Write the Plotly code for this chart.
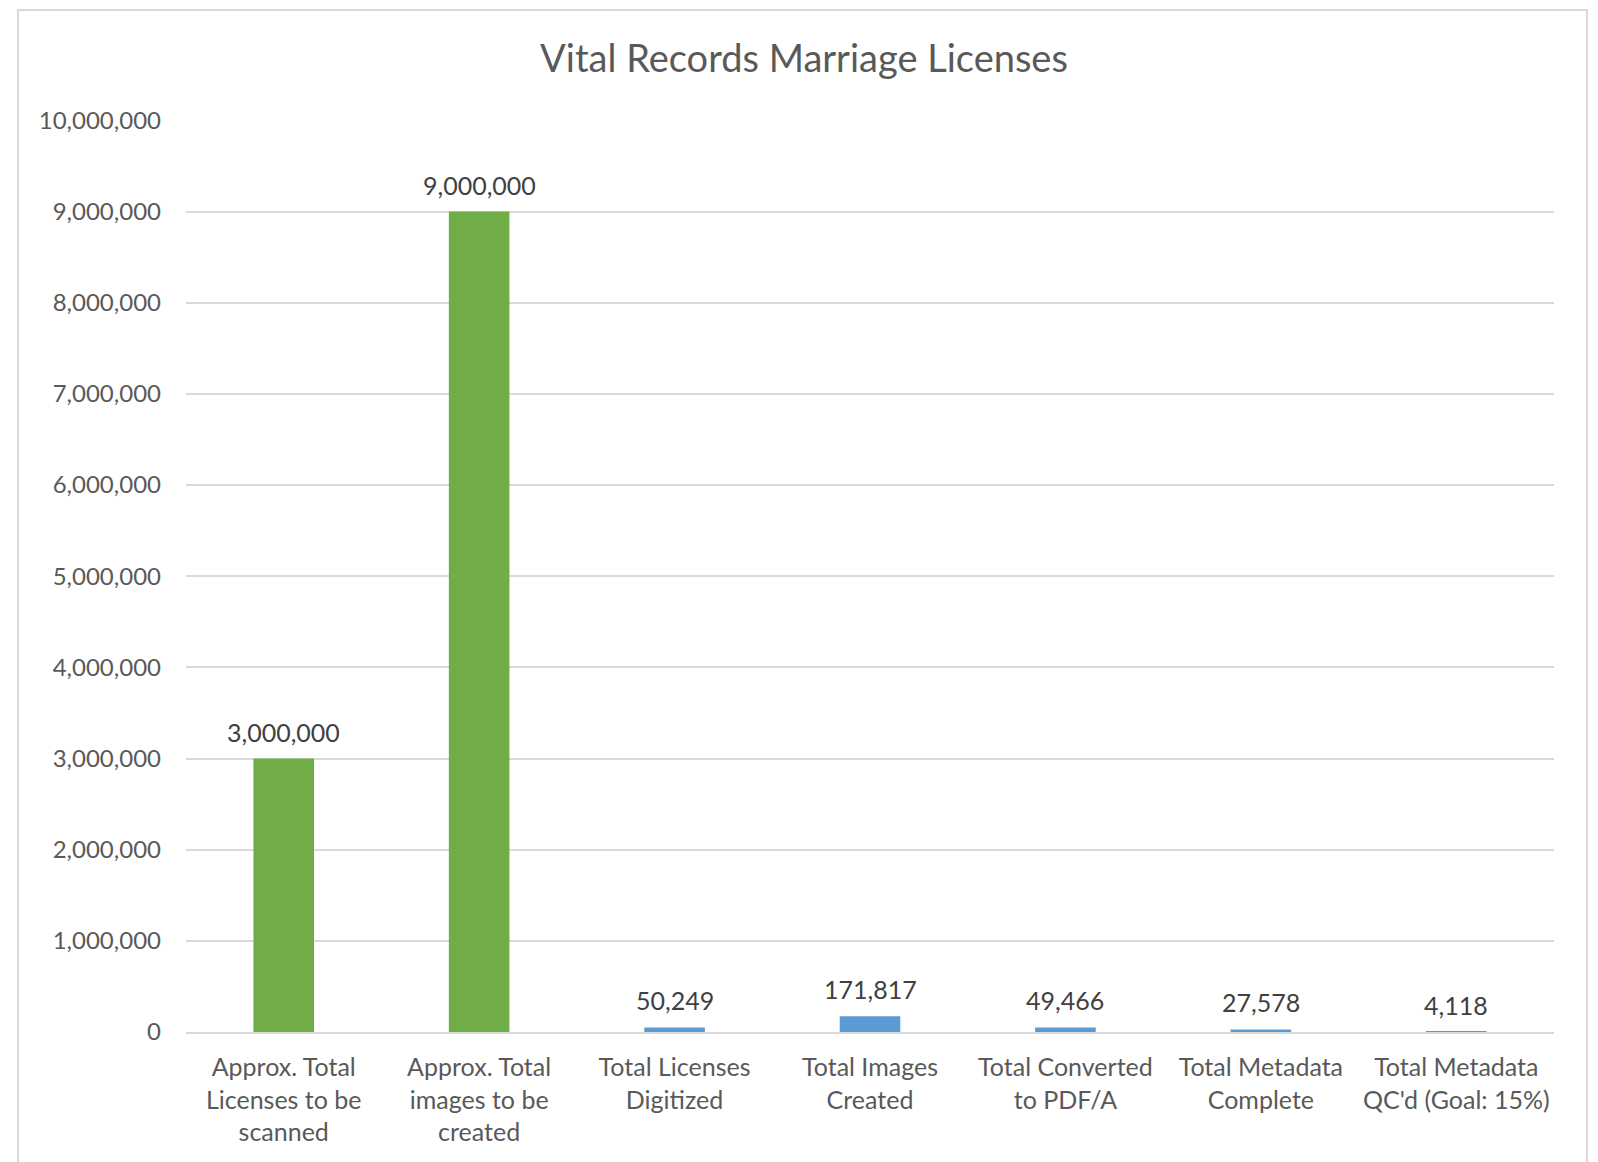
import plotly.graph_objects as go

categories = [
    "Approx. Total<br>Licenses to be<br>scanned",
    "Approx. Total<br>images to be<br>created",
    "Total Licenses<br>Digitized",
    "Total Images<br>Created",
    "Total Converted<br>to PDF/A",
    "Total Metadata<br>Complete",
    "Total Metadata<br>QC'd (Goal: 15%)",
]
values = [3000000, 9000000, 50249, 171817, 49466, 27578, 4118]
bar_colors = ["#70AD47", "#70AD47", "#5B9BD5", "#5B9BD5", "#5B9BD5", "#5B9BD5", "#5B9BD5"]
y_ticks = [0, 1000000, 2000000, 3000000, 4000000, 5000000, 6000000, 7000000, 8000000, 9000000, 10000000]

FONT = "Lato, 'Open Sans', sans-serif"
GRAY = "#595959"

OFF = 8  # page body margin
W, H = 1598 - OFF, 1162 - OFF
L = 186 - OFF
T = 120 - OFF
R = W - (1554 - OFF)
B = H - (1032 - OFF)

fig = go.Figure()
fig.add_trace(go.Bar(
    x=categories, y=values,
    marker=dict(color=bar_colors, line=dict(width=0)),
    width=0.31,
    hoverinfo="x+y",
))

for c, v in zip(categories, values):
    fig.add_annotation(x=c, y=v, text=f"{v:,}", showarrow=False,
                       yanchor="bottom", yshift=10,
                       font=dict(family=FONT, size=25, color="#404040"))

pw = W - L - R
ph = H - T - B
def px_x(px):
    return (px - OFF - L) / pw
def px_y(py):
    return (H - B - (py - OFF)) / ph

fig.add_shape(type="rect", xref="paper", yref="paper",
              x0=px_x(18), x1=px_x(1587), y0=px_y(1220), y1=px_y(10),
              line=dict(color="#D9D9D9", width=2), fillcolor="rgba(0,0,0,0)",
              layer="below")

fig.update_layout(
    width=W, height=H,
    margin=dict(l=L, r=R, t=T, b=B),
    paper_bgcolor="white", plot_bgcolor="white",
    title=dict(text="Vital Records Marriage Licenses", x=(804 - OFF) / W, xref="container",
               xanchor="center", y=1 - (59 - OFF) / H, yanchor="middle",
               font=dict(family=FONT, size=38, color=GRAY)),
    showlegend=False,
    font=dict(family=FONT, color=GRAY),
    xaxis=dict(
        showgrid=False, showline=True, linecolor="#D9D9D9", linewidth=2,
        ticks="", tickfont=dict(family=FONT, size=25, color=GRAY),
        ticklabelstandoff=12, layer="above traces",
    ),
    yaxis=dict(
        range=[0, 10004000], tickvals=y_ticks, tickformat=",d",
        showgrid=True, gridcolor="#D9D9D9", gridwidth=2,
        zeroline=False, showline=False, ticks="",
        tickfont=dict(family=FONT, size=24, color=GRAY),
        ticklabelstandoff=24,
    ),
)

fig.write_html("out.html")
